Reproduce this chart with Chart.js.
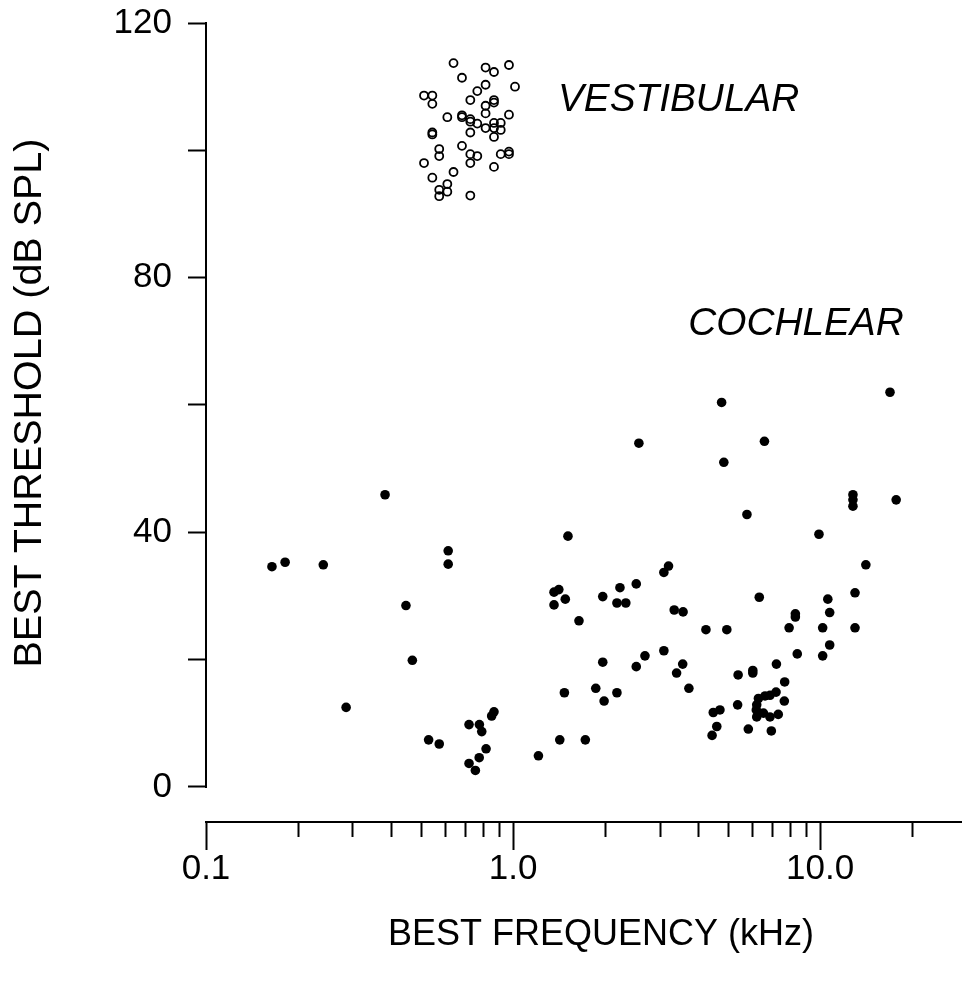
<!DOCTYPE html>
<html>
<head>
<meta charset="utf-8">
<title>Best threshold vs best frequency</title>
<script src="https://cdn.jsdelivr.net/npm/chart.js@4.4.1/dist/chart.umd.min.js"></script>
<style>
  body { margin: 0; background: #fff; }
  canvas { display: block; }
</style>
</head>
<body>
<canvas id="grafico" width="962" height="985"></canvas>
<script>
// valores (kHz, dB SPL)
const frecVestibular = [
  0.640, 0.814, 0.867, 0.970, 0.682, 1.015, 0.814, 0.765, 0.513, 0.546,
  0.546, 0.726, 0.867, 0.867, 0.814, 0.814, 0.970, 0.611, 0.682, 0.682,
  0.726, 0.726, 0.765, 0.814, 0.867, 0.912, 0.867, 0.912, 0.726, 0.867,
  0.546, 0.546, 0.575, 0.575, 0.682, 0.726, 0.765, 0.726, 0.912, 0.970,
  0.970, 0.513, 0.867, 0.640, 0.546, 0.611, 0.611, 0.575, 0.575, 0.726
];
const umbralVestibular = [
  113.7, 113.0, 112.3, 113.4, 111.4, 110.0, 110.3, 109.3, 108.6, 108.6,
  107.3, 107.9, 107.9, 107.5, 107.0, 105.8, 105.6, 105.2, 105.5, 105.2,
  104.9, 104.5, 104.2, 103.5, 104.3, 104.3, 103.5, 103.2, 102.8, 102.1,
  102.8, 102.5, 100.2, 99.1, 100.7, 99.4, 99.1, 98.0, 99.4, 99.8,
  99.4, 98.0, 97.4, 96.6, 95.7, 94.7, 93.5, 93.8, 92.8, 92.9
];

const frecCoclear = [
  0.383, 0.164, 0.181, 0.241, 0.615, 0.615, 0.448, 0.470, 0.286, 0.531,
  0.575, 0.719, 0.777, 0.791, 0.852, 0.867, 0.817, 0.776, 0.719, 0.754,
  2.57, 4.86, 1.51, 3.21, 3.10, 1.36, 1.41, 1.48, 1.36, 1.96,
  2.23, 2.52, 2.18, 2.33, 3.35, 3.58, 1.64, 4.25, 4.97, 3.10,
  2.69, 2.52, 1.96, 3.57, 3.41, 3.74, 1.47, 1.86, 2.18, 1.98,
  1.42, 1.72, 1.21, 4.49, 4.72, 4.61, 4.45,
  4.78, 16.9, 6.59, 12.8, 12.8, 12.8, 17.7, 5.78, 9.92, 14.1,
  6.34, 13.0, 10.6, 10.75, 8.31, 8.31, 7.93, 10.2, 13.0, 10.75,
  8.43, 10.2, 7.21, 5.41, 6.04, 6.04, 7.67, 7.19, 7.65, 6.30,
  6.62, 6.87, 6.22, 6.20, 6.22, 6.54, 6.87, 7.31, 5.39, 5.84, 6.94
];
const umbralCoclear = [
  45.9, 34.6, 35.3, 34.9, 37.1, 35.0, 28.5, 19.9, 12.5, 7.4,
  6.75, 9.8, 9.8, 8.7, 11.15, 11.8, 6.0, 4.6, 3.7, 2.6,
  54.0, 51.0, 39.4, 34.7, 33.7, 30.6, 31.0, 29.5, 28.6, 29.9,
  31.3, 31.9, 28.9, 28.9, 27.8, 27.5, 26.1, 24.7, 24.7, 21.4,
  20.6, 18.9, 19.6, 19.3, 17.9, 15.5, 14.8, 15.5, 14.8, 13.5,
  7.4, 7.4, 4.9, 11.7, 12.1, 9.5, 8.1,
  60.4, 62.0, 54.3, 45.9, 45.1, 44.1, 45.1, 42.8, 39.7, 34.9,
  29.8, 30.5, 29.5, 27.4, 27.2, 26.7, 25.0, 25.0, 25.0, 22.3,
  20.9, 20.6, 19.3, 17.6, 18.3, 17.9, 16.5, 14.9, 13.5, 13.9,
  14.3, 14.4, 12.9, 12.1, 11.0, 11.6, 11.0, 11.4, 12.9, 9.1, 8.8
];

// ticks
const yTicks = [0, 20, 40, 60, 80, 100, 120];
const yEtiquetas = [0, 40, 80, 120];
const xTicksMayores = [0.1, 1, 10];
const xEtiquetas = ['0.1', '1.0', '10.0'];

const FUENTE = '"Liberation Sans", Arial, Helvetica, sans-serif';
Chart.defaults.font.family = FUENTE;
Chart.defaults.color = '#000';

function aPuntos(xs, ys){
  return xs.map((x, i) => ({ x: x, y: ys[i] }));
}

function indiceMayor(v){
  return xTicksMayores.findIndex(m => Math.abs(Math.log10(v) - Math.log10(m)) < 1e-6);
}

// solo 1..9 x 10^n (fuera el tick del maximo)
function esTickDecada(v){
  const e = Math.floor(Math.log10(v) + 1e-9);
  const m = v / Math.pow(10, e);
  return Math.abs(m - Math.round(m)) < 1e-6;
}

// eje y (solo de 0 a 120), ticks del eje x y textos
const ejesYTextos = {
  id: 'ejesYTextos',
  afterDraw(chart){
    const ctx = chart.ctx;
    const xs = chart.scales.x;
    const ys = chart.scales.y;
    const area = chart.chartArea;

    ctx.save();
    ctx.strokeStyle = '#000';
    ctx.lineWidth = 2;

    // linea del eje y
    ctx.beginPath();
    ctx.moveTo(area.left, ys.getPixelForValue(yTicks[yTicks.length - 1]) - 1);
    ctx.lineTo(area.left, ys.getPixelForValue(yTicks[0]) + 1);
    ctx.stroke();

    // ticks del eje x (mayores largos, menores cortos)
    xs.ticks.forEach(t => {
      const px = Math.round(xs.getPixelForValue(t.value)) + 0.5;
      const largo = indiceMayor(t.value) >= 0 ? 28 : 15;
      ctx.beginPath();
      ctx.moveTo(px, area.bottom);
      ctx.lineTo(px, area.bottom + largo);
      ctx.stroke();
    });

    ctx.fillStyle = '#000';
    ctx.textAlign = 'center';
    ctx.textBaseline = 'middle';
    ctx.font = '36px ' + FUENTE;
    ctx.fillText('BEST FREQUENCY (kHz)', 601, 935);

    ctx.save();
    ctx.translate(30, 403);
    ctx.rotate(-Math.PI / 2);
    ctx.font = '39.5px ' + FUENTE;
    ctx.fillText('BEST THRESHOLD (dB SPL)', 0, 0);
    ctx.restore();

    ctx.textAlign = 'left';
    ctx.font = 'italic 38.8px ' + FUENTE;
    ctx.fillText('VESTIBULAR', xs.getPixelForValue(1.40), ys.getPixelForValue(107.9));
    ctx.fillText('COCHLEAR', xs.getPixelForValue(3.72), ys.getPixelForValue(72.7));
    ctx.restore();
  }
};

const ctx = document.getElementById('grafico').getContext('2d');

new Chart(ctx, {
  type: 'scatter',
  data: {
    datasets: [
      {
        label: 'Vestibular',
        data: aPuntos(frecVestibular, umbralVestibular),
        pointStyle: 'circle',
        pointRadius: 4,
        pointBorderWidth: 1.8,
        borderColor: '#000',
        backgroundColor: 'rgba(0,0,0,0)'
      },
      {
        label: 'Cochlear',
        data: aPuntos(frecCoclear, umbralCoclear),
        pointStyle: 'circle',
        pointRadius: 4.8,
        pointBorderWidth: 0,
        borderColor: '#000',
        backgroundColor: '#000'
      }
    ]
  },
  options: {
    responsive: false,
    animation: false,
    layout: {
      autoPadding: false,
      padding: { top: 23, right: 0, bottom: 0, left: 0 }
    },
    plugins: {
      legend: { display: false },
      tooltip: { enabled: false }
    },
    scales: {
      x: {
        type: 'logarithmic',
        min: 0.1,
        max: 29.0,
        afterBuildTicks: s => { s.ticks = s.ticks.filter(t => esTickDecada(t.value)); },
        afterFit: s => {
          s.height = 163;
          s.paddingLeft = 0;
          s.paddingRight = 0;
        },
        grid: { display: false },
        border: { display: true, color: '#000', width: 2 },
        ticks: {
          autoSkip: false,
          maxRotation: 0,
          padding: 18,
          font: { size: 35 },
          color: '#000',
          callback: v => {
            const i = indiceMayor(v);
            return i >= 0 ? xEtiquetas[i] : '';
          }
        }
      },
      y: {
        min: -5.5,
        max: 120,
        afterFit: s => {
          s.width = 206;
          s.paddingTop = 0;
          s.paddingBottom = 0;
        },
        afterBuildTicks: s => { s.ticks = yTicks.map(v => ({ value: v })); },
        grid: {
          display: true,
          drawOnChartArea: false,
          drawTicks: true,
          tickLength: 18,
          tickWidth: 2,
          tickColor: '#000'
        },
        border: { display: false },
        ticks: {
          padding: 16,
          font: { size: 35 },
          color: '#000',
          callback: v => yEtiquetas.includes(v) ? String(v) : ''
        }
      }
    }
  },
  plugins: [ejesYTextos]
});
</script>
</body>
</html>
